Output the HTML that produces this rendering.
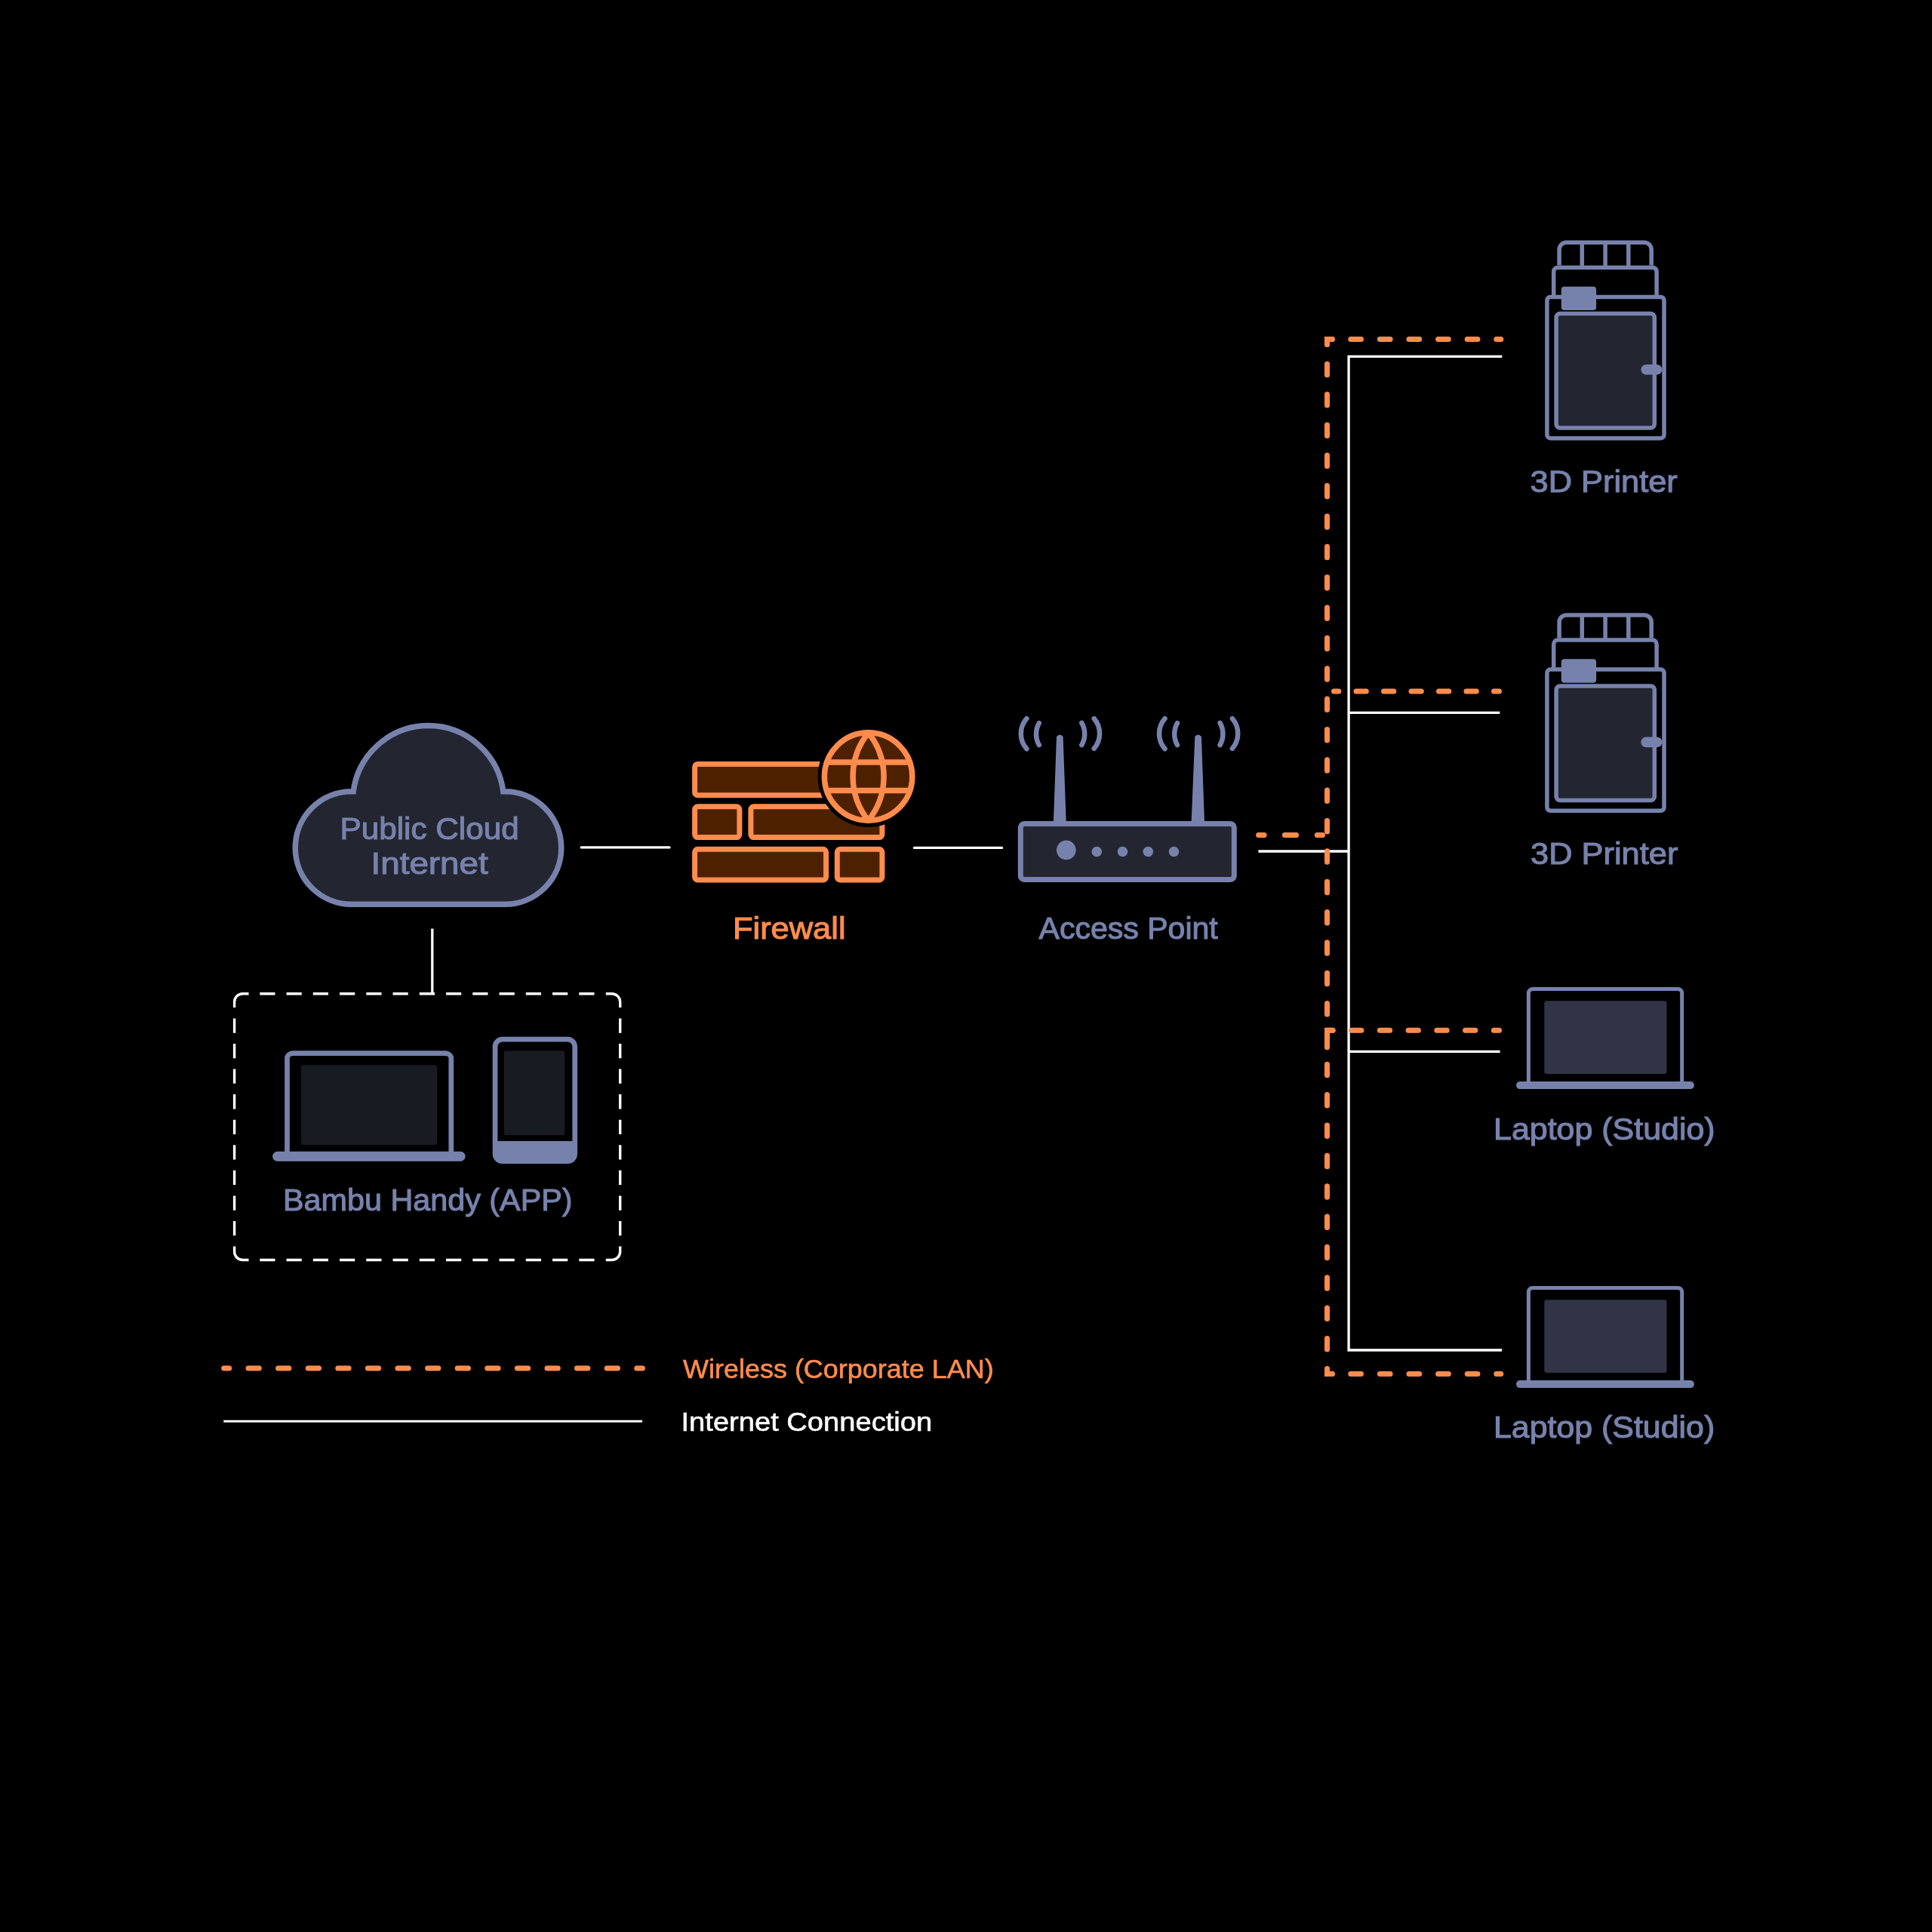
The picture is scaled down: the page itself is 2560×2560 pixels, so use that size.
<!DOCTYPE html>
<html><head><meta charset="utf-8">
<style>
html,body{margin:0;padding:0;background:#000;width:2560px;height:2560px;overflow:hidden}
svg{display:block;will-change:transform}
text{font-family:"Liberation Sans",sans-serif;stroke-width:1.1px;paint-order:stroke}
</style></head>
<body>
<svg width="2560" height="2560" viewBox="0 0 2560 2560">
<rect width="2560" height="2560" fill="#000"/>

<!-- white connection lines -->
<g stroke="#fff" stroke-width="3.3" fill="none" stroke-linecap="butt">
  <line x1="770.3" y1="1122.9" x2="887" y2="1122.9" stroke-linecap="round" stroke-width="3.4"/>
  <line x1="1211.5" y1="1123.4" x2="1327.5" y2="1123.4" stroke-linecap="round" stroke-width="3.4"/>
  <line x1="572.8" y1="1230.5" x2="572.8" y2="1316.7"/>
  <line x1="1667.4" y1="1128" x2="1787.1" y2="1128"/>
  <polyline points="1990.3,472.4 1787.1,472.4 1787.1,1789 1990.1,1789" stroke-linejoin="miter"/>
  <line x1="1787.1" y1="944.3" x2="1987.3" y2="944.3"/>
  <line x1="1787.1" y1="1393.4" x2="1987.6" y2="1393.4"/>
  <line x1="296.3" y1="1883.2" x2="851.1" y2="1883.2" stroke-width="3.1"/>
</g>

<!-- dashed box -->
<path d="M310.6 1334.9 V1327.7 A11 11 0 0 1 321.6 1316.7 H329.5 M802.8 1316.7 H810.7 A11 11 0 0 1 821.7 1327.7 V1334.9 M821.7 1651.5 V1658.5 A11 11 0 0 1 810.7 1669.5 H802.8 M329.5 1669.5 H321.6 A11 11 0 0 1 310.6 1658.5 V1651.5 M344.30 1316.7 h20.2 M344.30 1669.5 h20.2 M379.55 1316.7 h20.2 M379.55 1669.5 h20.2 M414.80 1316.7 h20.2 M414.80 1669.5 h20.2 M450.05 1316.7 h20.2 M450.05 1669.5 h20.2 M485.30 1316.7 h20.2 M485.30 1669.5 h20.2 M520.55 1316.7 h20.2 M520.55 1669.5 h20.2 M555.80 1316.7 h20.2 M555.80 1669.5 h20.2 M591.05 1316.7 h20.2 M591.05 1669.5 h20.2 M626.30 1316.7 h20.2 M626.30 1669.5 h20.2 M661.55 1316.7 h20.2 M661.55 1669.5 h20.2 M696.80 1316.7 h20.2 M696.80 1669.5 h20.2 M732.05 1316.7 h20.2 M732.05 1669.5 h20.2 M767.30 1316.7 h20.2 M767.30 1669.5 h20.2 M310.6 1349.40 v19.3 M821.7 1349.40 v19.3 M310.6 1382.97 v19.3 M821.7 1382.97 v19.3 M310.6 1416.54 v19.3 M821.7 1416.54 v19.3 M310.6 1450.11 v19.3 M821.7 1450.11 v19.3 M310.6 1483.68 v19.3 M821.7 1483.68 v19.3 M310.6 1517.25 v19.3 M821.7 1517.25 v19.3 M310.6 1550.82 v19.3 M821.7 1550.82 v19.3 M310.6 1584.39 v19.3 M821.7 1584.39 v19.3 M310.6 1617.96 v19.3 M821.7 1617.96 v19.3" fill="none" stroke="#fff" stroke-width="3.4"/>

<!-- cloud -->
<path d="M466 1198.25 A74.75 74.75 0 0 1 466 1048.75 L468.2 1048.75 A100.15 100.15 0 0 1 666.8 1048.75 L669 1048.75 A74.75 74.75 0 0 1 669 1198.25 Z" fill="#232630" stroke="#7782ac" stroke-width="7.5"/>

<!-- firewall -->
<g stroke="#ff8c4d" stroke-width="7" fill="#4d2100">
  <rect x="920.6" y="1012.4" width="246.6" height="41.4" rx="4"/>
  <rect x="920.6" y="1068.8" width="59.3" height="40.8" rx="4"/>
  <rect x="994.9" y="1068.8" width="174" height="40.8" rx="4"/>
  <rect x="920.6" y="1125.2" width="174" height="40.8" rx="4"/>
  <rect x="1109.3" y="1125.2" width="59.6" height="40.8" rx="4"/>
</g>
<circle cx="1150.6" cy="1029" r="67" fill="#000"/>
<g stroke="#ff8c4d" stroke-width="7.5" fill="#4d2100">
  <circle cx="1150.6" cy="1029" r="58.2"/>
  <path d="M1150.6 970.8 A92.9 92.9 0 0 0 1150.6 1087.2 A92.9 92.9 0 0 0 1150.6 970.8 Z" fill="none" stroke-linejoin="round"/>
  <line x1="1095" y1="1010" x2="1206" y2="1010"/>
  <line x1="1095" y1="1047.4" x2="1206" y2="1047.4"/>
</g>

<!-- access point -->
<g fill="#7782ac">
  <path d="M1400 976 Q1404.3 971 1408.6 976 L1412.8 1092 L1395.8 1092 Z"/>
  <path d="M1583.3 976 Q1587.6 971 1591.9 976 L1596.1 1092 L1578.5 1092 Z"/>
</g>
<rect x="1352.3" y="1091.5" width="283" height="74.1" rx="5" fill="#232630" stroke="#7782ac" stroke-width="7"/>
<g fill="#7782ac">
  <circle cx="1412.8" cy="1126.4" r="12.8"/>
  <circle cx="1453.3" cy="1128.5" r="6.8"/>
  <circle cx="1487.5" cy="1128.5" r="6.8"/>
  <circle cx="1521.3" cy="1128.5" r="6.8"/>
  <circle cx="1555.5" cy="1128.5" r="6.8"/>
</g>
<g stroke="#7782ac" stroke-width="6.5" fill="none" stroke-linecap="round">
  <path d="M1360.35 952.1 A30.4 30.4 0 0 0 1360.35 992.2"/>
  <path d="M1376.8 958.2 A29.4 29.4 0 0 0 1376.8 987.1"/>
  <path d="M1433.35 957.8 A29.4 29.4 0 0 1 1433.35 987.1"/>
  <path d="M1449.7 952.1 A30.4 30.4 0 0 1 1449.7 991.8"/>
  <g transform="translate(183.2 0)">
    <path d="M1360.35 952.1 A30.4 30.4 0 0 0 1360.35 992.2"/>
    <path d="M1376.8 958.2 A29.4 29.4 0 0 0 1376.8 987.1"/>
    <path d="M1433.35 957.8 A29.4 29.4 0 0 1 1433.35 987.1"/>
    <path d="M1449.7 952.1 A30.4 30.4 0 0 1 1449.7 991.8"/>
  </g>
</g>


<!-- printer symbol -->
<defs>
<g id="printer">
  <g fill="none" stroke="#7782ac" stroke-width="5.5">
    <path d="M2066.1 351.6 V331 A9.5 9.5 0 0 1 2075.6 321.3 H2178.7 A9.5 9.5 0 0 1 2188.2 331 V351.6"/>
    <line x1="2096.3" y1="322" x2="2096.3" y2="354"/>
    <line x1="2127.1" y1="322" x2="2127.1" y2="354"/>
    <line x1="2157.8" y1="322" x2="2157.8" y2="354"/>
    <path d="M2058.7 393.5 V360 A5.5 5.5 0 0 1 2064.2 354.4 H2189.6 A5.5 5.5 0 0 1 2195.1 360 V393.5"/>
    <rect x="2049.9" y="393.5" width="155.1" height="187.2" rx="4.5"/>
  </g>
  <rect x="2062.1" y="415.5" width="130.2" height="151.4" rx="5" fill="#232630" stroke="#7782ac" stroke-width="5.5"/>
  <rect x="2068.8" y="379.7" width="46.3" height="31.4" rx="4" fill="#7782ac"/>
  <rect x="2174.4" y="483" width="28" height="13.6" rx="6.8" fill="#7782ac"/>
</g>
<g id="laptopR">
  <path d="M2025.4 1436 V1316 A5.5 5.5 0 0 1 2030.9 1310.4 H2223.2 A5.5 5.5 0 0 1 2228.7 1316 V1436" fill="none" stroke="#7782ac" stroke-width="5"/>
  <rect x="2046.3" y="1326.2" width="162.2" height="96.7" rx="3" fill="#303446"/>
  <rect x="2009" y="1433.1" width="235.9" height="10" rx="5" fill="#7782ac"/>
</g>
</defs>
<use href="#printer"/>
<use href="#printer" y="493.6"/>
<use href="#laptopR"/>
<use href="#laptopR" y="396"/>

<!-- bambu handy -->
<path d="M380.5 1527 V1401 A8 8 0 0 1 388.5 1395.6 H589.8 A8 8 0 0 1 597.8 1401 V1527" fill="none" stroke="#7782ac" stroke-width="6.7"/>
<rect x="399" y="1411.2" width="180.2" height="105.7" rx="3" fill="#191b23"/>
<rect x="361.1" y="1525.8" width="255.5" height="12.9" rx="6.4" fill="#7782ac"/>
<path d="M656.05 1513.6 V1387 A9.6 9.6 0 0 1 665.65 1377.15 H752.15 A9.6 9.6 0 0 1 761.75 1387 V1513.6" fill="none" stroke="#7782ac" stroke-width="6.7"/>
<path d="M652.7 1512 H765.1 V1529 A13 13 0 0 1 752.1 1542.1 H665.7 A13 13 0 0 1 652.7 1529 Z" fill="#7782ac"/>
<rect x="667.8" y="1392.3" width="80.6" height="111.9" rx="3" fill="#191b23"/>

<!-- legend -->

<!-- orange dashed network -->
<g stroke="#ff8c4d" stroke-width="7" fill="none" stroke-linecap="round" stroke-linejoin="miter">
  <line x1="296.7" y1="1813" x2="851.4" y2="1813" stroke-dasharray="14.3 25.3" stroke-dashoffset="7.3"/>
  <line x1="1758.5" y1="449.5" x2="1758.5" y2="1820.5" stroke-dasharray="14.5 25.85" stroke-dashoffset="7.65"/>
  <line x1="1758.5" y1="449.5" x2="1988.8" y2="449.5" stroke-dasharray="13.7 24.9" stroke-dashoffset="7.3"/>
  <line x1="1758.5" y1="1820.5" x2="1988.8" y2="1820.5" stroke-dasharray="13.7 24.9" stroke-dashoffset="7.3"/>
  <line x1="1758.5" y1="1365.3" x2="1986.5" y2="1365.3" stroke-dasharray="13.3 24.45" stroke-dashoffset="5.65"/>
  <line x1="1767.5" y1="915.9" x2="1986.5" y2="915.9" stroke-dasharray="13.3 23.2" stroke-dashoffset="7"/>
  <path d="M1667.6 1106.4 H1675.1 M1702.4 1106.4 H1717.6 M1745.3 1106.4 H1752.5"/>
  <path d="M1765.5 449.5 H1758.5 V456.4"/>
  <path d="M1766 1365.3 H1758.5 V1387.8"/>
  <path d="M1758.5 1813.7 V1820.5 H1765.5"/>
</g>

<g id="texts">
<text x="450.50" y="1112.4" fill="#7782ac" stroke="#7782ac" font-size="41.2" textLength="237.17" lengthAdjust="spacingAndGlyphs">Public Cloud</text>
<text x="491.50" y="1158.1" fill="#7782ac" stroke="#7782ac" font-size="41.2" textLength="155.18" lengthAdjust="spacingAndGlyphs">Internet</text>
<text x="971.00" y="1243.8" fill="#ff8c4d" stroke="#ff8c4d" font-size="41.2" textLength="149.54" lengthAdjust="spacingAndGlyphs">Firewall</text>
<text x="1376.50" y="1244.3" fill="#7782ac" stroke="#7782ac" font-size="41.2" textLength="237.28" lengthAdjust="spacingAndGlyphs">Access Point</text>
<text x="2027.50" y="651.8" fill="#7782ac" stroke="#7782ac" font-size="41.2" textLength="195.28" lengthAdjust="spacingAndGlyphs">3D Printer</text>
<text x="2028.00" y="1144.8" fill="#7782ac" stroke="#7782ac" font-size="41.2" textLength="195.43" lengthAdjust="spacingAndGlyphs">3D Printer</text>
<text x="1979.00" y="1509.5" fill="#7782ac" stroke="#7782ac" font-size="41.2" textLength="293.64" lengthAdjust="spacingAndGlyphs">Laptop (Studio)</text>
<text x="1979.00" y="1904.6" fill="#7782ac" stroke="#7782ac" font-size="41.2" textLength="293.22" lengthAdjust="spacingAndGlyphs">Laptop (Studio)</text>
<text x="375.00" y="1603.9" fill="#7782ac" stroke="#7782ac" font-size="41.2" textLength="383.51" lengthAdjust="spacingAndGlyphs">Bambu Handy (APP)</text>
<text style="stroke-width:0.6px" x="905.00" y="1825.5" fill="#ff8c4d" stroke="#ff8c4d" font-size="34.8" textLength="411.75" lengthAdjust="spacingAndGlyphs">Wireless (Corporate LAN)</text>
<text style="stroke-width:0.6px" x="902.50" y="1896.1" fill="#fff" stroke="#fff" font-size="34.8" textLength="332.67" lengthAdjust="spacingAndGlyphs">Internet Connection</text>
</g>
</svg>
</body></html>
